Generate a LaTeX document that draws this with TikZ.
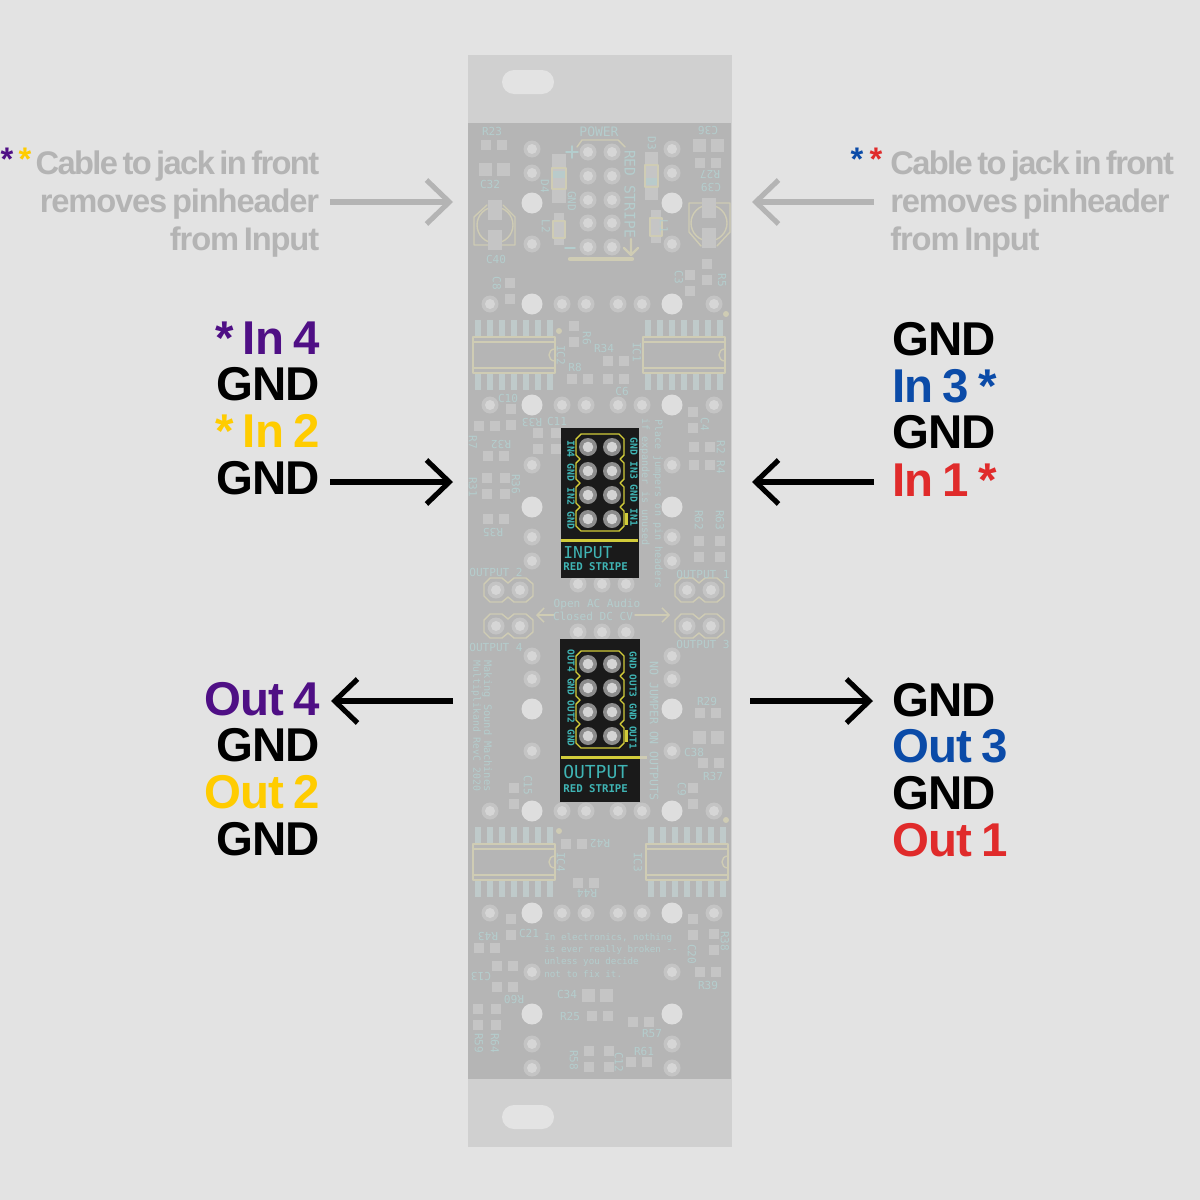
\documentclass[tikz,border=0pt]{standalone}
\usepackage{fontspec}
\setmainfont{Liberation Sans}
\setmonofont{DejaVu Sans Mono}
\newfontfamily\wirefont[LetterSpace=-2,WordSpace=0.75]{Liberation Sans}
\newfontfamily\notefont[LetterSpace=-3.5,WordSpace=0.6]{Liberation Sans}
\newfontfamily\notetight[LetterSpace=-5,WordSpace=0.6]{Liberation Sans}
\usetikzlibrary{arrows.meta}

\definecolor{bggray}{HTML}{E3E3E3}
\definecolor{panelgray}{HTML}{D0D0D0}
\definecolor{pcbgray}{HTML}{B5B5B5}
\definecolor{ringgray}{HTML}{C4C4C4}
\definecolor{coregray}{HTML}{D6D6D6}
\definecolor{holegray}{HTML}{DEDEDE}
\definecolor{smdgray}{HTML}{C5C5C5}
\definecolor{pingray}{HTML}{BFCACA}
\definecolor{fadesilk}{HTML}{CFCCB4}
\definecolor{fadeteal}{HTML}{B4CDCD}
\definecolor{capgray}{HTML}{B4B4B4}
\definecolor{jumperblack}{HTML}{1A1A1A}
\definecolor{silkyellow}{HTML}{D2CC3A}
\definecolor{silkteal}{HTML}{3FB4B4}
\definecolor{pinring}{HTML}{8C8C8C}
\definecolor{pincore}{HTML}{D4D4D4}
\definecolor{wirepurple}{HTML}{4F0F85}
\definecolor{wireyellow}{HTML}{FFCC00}
\definecolor{wireblue}{HTML}{0B4BA8}
\definecolor{wirered}{HTML}{E02B2B}

\tikzset{
  ringpad/.style={fill=ringgray},
  corepad/.style={fill=coregray},
  smdpad/.style={fill=smdgray},
  outlinesilk/.style={draw=fadesilk, line width=0.8pt},
  silklabel/.style={text=fadeteal, inner sep=0pt, font=\ttfamily\fontsize{6.3}{7.4}\selectfont},
  pinlabel/.style={text=silkteal, inner sep=0pt, rotate=-90, font=\ttfamily\bfseries\fontsize{5.6}{6}\selectfont},
  biglabel/.style={inner sep=0pt, font=\wirefont\bfseries\fontsize{27}{29}\selectfont},
  grayline/.style={inner sep=0pt, text=capgray, font=\notefont\bfseries\fontsize{18.6}{21}\selectfont},
  bigarrow/.style={-{Straight Barb[length=13pt,width=25pt,line width=2.9pt]}, line width=2.9pt, line cap=butt},
}

\begin{document}
\begin{tikzpicture}[x=0.02cm, y=-0.02cm, line cap=round, line join=round]

    % ── Page and panel, coordinates are reference pixels ─────────────────────
    \fill[bggray] (0,0) rectangle (1200,1200);
    \useasboundingbox (0,0) rectangle (1200,1200);
    \fill[panelgray] (468,55) rectangle (732,1147);
    \fill[pcbgray] (468,123) rectangle (731,1079);
    \fill[bggray] (514,70) -- (542,70) arc (90:-90:12 and -12) -- (514,94) arc (-90:-270:12 and -12) -- cycle;
    \fill[bggray] (514,1105) -- (542,1105) arc (90:-90:12 and -12) -- (514,1129) arc (-90:-270:12 and -12) -- cycle;

    % ── Through-hole pads ────────────────────────────────────────────────────
    \foreach \x/\y in {588/152,612/152,588/176,612/176,588/200,612/200,588/223,612/223,588/247,612/247,
        532/149,532/173,532/244,672/149,672/173,672/244,
        490/304,562/304,586/304,618/304,642/304,714/304,
        490/405,562/405,586/405,618/405,642/405,714/405,
        532/465,532/537,532/561,672/465,672/537,672/561,
        578/584,602/584,626/584,578/632,602/632,626/632,
        496/590,520/590,687/590,711/590,496/626,520/626,687/626,711/626,
        532/656,532/679,532/751,672/656,672/679,672/751,
        490/811,562/811,586/811,618/811,642/811,714/811,
        490/913,562/913,586/913,618/913,642/913,714/913,
        532/972,532/1044,532/1068,672/972,672/1044,672/1068} {
        \fill[ringpad] (\x,\y) circle (8.5);
        \fill[corepad] (\x,\y) circle (5);
    }
    \foreach \x/\y in {532/203,672/203,532/304,672/304,532/405,672/405,532/507,672/507,
        532/709,672/709,532/811,672/811,532/913,672/913,532/1014,672/1014} {
        \fill[holegray] (\x,\y) circle (10.5);
    }

    % ── Surface pads ─────────────────────────────────────────────────────────
    \foreach \x/\y in {486/145,502/145,700/163,716/163,707/264,707/280,690/275,690/291,510/283,510/299,
        574/326,574/342,608/361,624/361,572/379,588/379,608/379,624/379,511/409,511/425,479/426,495/426,
        538/433,556/433,538/449,556/449,693/412,693/428,694/447,710/447,694/465,710/465,488/456,504/456,
        487/478,505/478,487/494,505/494,488/519,504/519,699/541,720/541,699/557,720/557,
        700/713,716/713,703/763,719/763,514/788,514/804,693/788,693/804,566/844,582/844,578/883,594/883,
        511/919,511/935,479/948,495/948,497/966,513/966,497/987,513/987,478/1009,496/1009,478/1025,496/1025,
        592/1016,608/1016,633/1022,649/1022,589/1051,589/1067,609/1051,609/1067,631/1062,647/1062,
        693/919,693/935,714/934,714/950,700/972,716/972} {
        \fill[smdpad] (\x-5,\y-5) rectangle +(10,10);
    }
    \foreach \x/\y in {485/169,503/169,699/145,717/145,699/737,717/737,588/995,606/995} {
        \fill[smdpad] (\x-6.5,\y-6.5) rectangle +(13,13);
    }

    % ── Electrolytic caps, diodes, chokes ────────────────────────────────────
    \draw[outlinesilk] (474,245) -- (474,217) -- (487,205) (503,205) -- (515,217) -- (515,245) -- (474,245);
    \draw[outlinesilk] (495,225) circle (18);
    \fill[smdpad] (488,200) rectangle +(14,20);
    \fill[smdpad] (488,230) rectangle +(14,20);
    \draw[outlinesilk] (689,203) -- (730,203) -- (730,232) -- (717,246) (701,246) -- (689,232) -- (689,203);
    \draw[outlinesilk] (709,223) circle (18);
    \fill[smdpad] (702,198) rectangle +(14,20);
    \fill[smdpad] (702,228) rectangle +(14,20);
    \fill[smdpad] (552,154) rectangle (566,203);
    \fill[smdpad] (645,152) rectangle (658,200);
    \fill[fadeteal!70!smdgray] (553,171) rectangle (565,178);
    \fill[fadeteal!70!smdgray] (646,178) rectangle (657,185);
    \draw[outlinesilk, line width=1pt] (552,168) rectangle (566,189);
    \draw[outlinesilk, line width=1pt] (645,165) rectangle (658,187);
    \fill[smdpad] (554,213) rectangle (564,245);
    \fill[smdpad] (651,210) rectangle (661,243);
    \draw[outlinesilk] (553,221) rectangle (565,238);
    \draw[outlinesilk] (650,218) rectangle (662,236);

    % ── The four IC outlines with their legs ─────────────────────────────────
    \foreach \icx/\icy in {473/337,643/337,473/844,646/844} {
        \foreach \i in {0,...,6} {
            \fill[pingray] (\icx+2+12*\i,\icy-17) rectangle +(6,70);
        }
        \fill[pcbgray] (\icx,\icy) rectangle +(82,36);
        \draw[outlinesilk] (\icx,\icy) rectangle +(82,36);
        \draw[outlinesilk] (\icx,\icy+5) -- +(82,0) (\icx,\icy+31) -- +(82,0);
        \draw[outlinesilk] (\icx+82,\icy+12) .. controls (\icx+74,\icy+12) and (\icx+74,\icy+24) .. (\icx+82,\icy+24);
    }
    \foreach \x/\y in {559/331,726/314,726/820,559/831} {
        \fill[fadesilk] (\x,\y) circle (3);
    }

    % ── Output jacks, power header marks ─────────────────────────────────────
    \foreach \x/\y in {496/590,687/590,496/626,687/626} {
        \draw[outlinesilk] (\x-6,\y-12) -- (\x+6,\y-12) -- (\x+12,\y-7) -- (\x+18,\y-12) -- (\x+30,\y-12) -- (\x+37,\y-6)
            -- (\x+37,\y+6) -- (\x+30,\y+12) -- (\x+18,\y+12) -- (\x+12,\y+7) -- (\x+6,\y+12) -- (\x-6,\y+12)
            -- (\x-12,\y+6) -- (\x-12,\y-6) -- cycle;
    }
    \draw[outlinesilk] (577,147) -- (582,140) -- (618,140) -- (625,147);
    \draw[fadeteal, line width=0.9pt] (566,152) -- (578,152) (572,146) -- (572,158) (565,248) -- (575,248);
    \draw[fadesilk, line width=2.4pt] (570,259) -- (632,259);
    \draw[fadesilk, line width=1.3pt] (631,239) -- (631,255) (624,248) -- (631,255) -- (638,248);
    \coordinate (acleft) at (536,615);
    \coordinate (acstart) at (554,615);
    \coordinate (dcright) at (670,615);
    \coordinate (dcstart) at (635,615);
    \draw[fadesilk, line width=0.8pt, -{Straight Barb[length=4pt,width=8pt]}] (acstart) -- (acleft);
    \draw[fadesilk, line width=0.8pt, -{Straight Barb[length=4pt,width=8pt]}] (dcstart) -- (dcright);

    % ── Faded silk labels ────────────────────────────────────────────────────
    \foreach \lbl/\x/\y in {R23/492/131,C32/490/184,C40/496/259,R34/604/348,R8/575/367,C6/622/391,C10/508/398,C11/557/421,
        R29/707/701,C38/694/752,R37/713/776,C21/529/933,C34/567/994,R25/570/1016,R57/652/1034,R61/644/1051,R39/708/985} {
        \node[silklabel] (silk\lbl) at (\x,\y) {\lbl};
    }
    \foreach \lbl/\x/\y in {D4/545/186,L2/546/226,D3/652/143,L1/664/226,C3/679/277,R5/722/280,C8/497/283,GND/572/201,
        R6/587/338,IC2/561/355,IC1/637/352,C4/705/424,R7/473/442,R2/721/447,R4/721/467,R36/516/484,R31/473/487,
        R62/699/520,R63/720/520,C15/528/785,C9/682/789,IC4/561/862,IC3/638/862,R59/479/1043,R64/495/1043,
        R58/574/1060,C12/619/1062,C20/692/954,R38/725/941} {
        \node[silklabel, rotate=-90] (silk\lbl) at (\x,\y) {\lbl};
    }
    \foreach \lbl/\x/\y in {C36/708/131,R27/710/175,C39/711/188,R33/532/423,R32/501/445,R35/493/533,
        R42/600/844,R44/587/894,R43/488/937,C13/481/977,R60/514/1000} {
        \node[silklabel, rotate=180] (silk\lbl) at (\x,\y) {\lbl};
    }
    \node[silklabel, font=\ttfamily\fontsize{7.4}{8}\selectfont] (silkpower) at (599,132) {POWER};
    \node[silklabel, rotate=-90, font=\ttfamily\fontsize{8.3}{9}\selectfont] (silkstripe) at (630,194) {RED STRIPE};
    \node[silklabel] (silkout2) at (496,572) {OUTPUT 2};
    \node[silklabel] (silkout1) at (703,574) {OUTPUT 1};
    \node[silklabel] (silkout4) at (496,647) {OUTPUT 4};
    \node[silklabel] (silkout3) at (703,644) {OUTPUT 3};
    \node[silklabel] (silkopen) at (597,604) {Open AC Audio};
    \node[silklabel] (silkclosed) at (593,616) {Closed DC CV};
    \node[silklabel, rotate=-90, font=\ttfamily\fontsize{5.7}{6}\selectfont] (silkplace) at (658,504) {Place jumpers on pin headers};
    \node[silklabel, rotate=-90, font=\ttfamily\fontsize{5.7}{6}\selectfont] (silkif) at (645,482) {if expander is unused};
    \node[silklabel, rotate=-90, font=\ttfamily\fontsize{6.6}{7}\selectfont] (silkno) at (654,731) {NO JUMPER ON OUTPUTS};
    \node[silklabel, rotate=-90, font=\ttfamily\fontsize{5.9}{6}\selectfont] (silkmaking) at (487,726) {Making Sound Machines};
    \node[silklabel, rotate=-90, font=\ttfamily\fontsize{5.6}{6}\selectfont] (silkmulti) at (476,726) {Multiplikand RevC 2020};
    \node[silklabel, anchor=north west, align=left, font=\ttfamily\fontsize{5.25}{6.95}\selectfont] (silkquote) at (544,933)
        {In electronics, nothing\\is ever really broken --\\unless you decide\\not to fix it.};

    % ── Jumper blocks ────────────────────────────────────────────────────────
    \fill[jumperblack] (561,428) rectangle (639,578);
    \fill[jumperblack] (560,639) rectangle (640,802);
    \foreach \hx/\hy in {588/447,588/664} {
        \draw[silkyellow, line width=0.8pt] (\hx-7,\hy-13) -- (\hx+31,\hy-13) -- (\hx+36,\hy-8) -- (\hx+36,\hy+8) -- (\hx+32,\hy+12)
            -- (\hx+36,\hy+16) -- (\hx+36,\hy+32) -- (\hx+32,\hy+36) -- (\hx+36,\hy+40) -- (\hx+36,\hy+56) -- (\hx+32,\hy+60)
            -- (\hx+36,\hy+64) -- (\hx+36,\hy+79) -- (\hx+31,\hy+84) -- (\hx-7,\hy+84) -- (\hx-12,\hy+79) -- (\hx-12,\hy+64)
            -- (\hx-8,\hy+60) -- (\hx-12,\hy+56) -- (\hx-12,\hy+40) -- (\hx-8,\hy+36) -- (\hx-12,\hy+32) -- (\hx-12,\hy+16)
            -- (\hx-8,\hy+12) -- (\hx-12,\hy+8) -- (\hx-12,\hy-8) -- cycle;
        \fill[silkyellow] (\hx+37,\hy+66) rectangle +(2.5,12);
        \foreach \i in {0,...,3} {
            \fill[pinring] (\hx,\hy+24*\i) circle (9);
            \fill[pinring] (\hx+24,\hy+24*\i) circle (9);
            \fill[pincore] (\hx,\hy+24*\i) circle (5.3);
            \fill[pincore] (\hx+24,\hy+24*\i) circle (5.3);
        }
    }
    \fill[silkyellow] (561,538.5) rectangle (638,541.5);
    \fill[fadesilk] (640,755.5) rectangle (647,758.5);
    \fill[silkyellow] (561,755.5) rectangle (640,758.5);

    \node[pinlabel] (pinsinleft) at (571,484.5) {IN4 GND IN2 GND};
    \node[pinlabel] (pinsinright) at (634,482) {GND IN3 GND IN1};
    \node[pinlabel, font=\ttfamily\bfseries\fontsize{5.4}{6}\selectfont] (pinsoutleft) at (571,698) {OUT4 GND OUT2 GND};
    \node[pinlabel, font=\ttfamily\bfseries\fontsize{5.4}{6}\selectfont] (pinsoutright) at (633,700.5) {GND OUT3 GND OUT1};

    \node[inner sep=0pt, text=silkteal, anchor=west, font=\ttfamily\fontsize{9.3}{10}\selectfont] (inputname) at (563,553) {INPUT};
    \node[inner sep=0pt, text=silkteal, anchor=west, font=\ttfamily\bfseries\fontsize{6.1}{7}\selectfont] (inputstripe) at (563,567) {RED STRIPE};
    \node[inner sep=0pt, text=silkteal, anchor=west, font=\ttfamily\fontsize{10.2}{11}\selectfont] (outputname) at (563,772) {OUTPUT};
    \node[inner sep=0pt, text=silkteal, anchor=west, font=\ttfamily\bfseries\fontsize{6.1}{7}\selectfont] (outputstripe) at (563,789) {RED STRIPE};

    % ── Note above, left and right ───────────────────────────────────────────
    \node[grayline, anchor=base east, font=\notetight\bfseries\fontsize{18.6}{21}\selectfont] (noteleftA) at (319.5,174) {Cable to jack in front};
    \node[grayline, anchor=base east] (noteleftB) at (319.5,212) {removes pinheader};
    \node[grayline, anchor=base east] (noteleftC) at (319.5,250) {from Input};
    \node[grayline, anchor=base west, font=\notetight\bfseries\fontsize{18.6}{21}\selectfont] (noterightA) at (890,174) {Cable to jack in front};
    \node[grayline, anchor=base west] (noterightB) at (890,212) {removes pinheader};
    \node[grayline, anchor=base west] (noterightC) at (890,250) {from Input};
    \node[grayline, anchor=base, text=wirepurple] (starpurple) at (7,170) {*};
    \node[grayline, anchor=base, text=wireyellow] (staryellow) at (25,170) {*};
    \node[grayline, anchor=base, text=wireblue] (starblue) at (857,170) {*};
    \node[grayline, anchor=base, text=wirered] (starred) at (876,170) {*};

    % ── Wire names ───────────────────────────────────────────────────────────
    \node[biglabel, anchor=base east, text=wirepurple] (inD) at (320,354) {* In 4};
    \node[biglabel, anchor=base east] (inGndA) at (320,400) {GND};
    \node[biglabel, anchor=base east, text=wireyellow] (inB) at (320,447) {* In 2};
    \node[biglabel, anchor=base east] (inGndB) at (320,494) {GND};
    \node[biglabel, anchor=base west] (inGndC) at (892,355) {GND};
    \node[biglabel, anchor=base west, text=wireblue] (inC) at (892,402) {In 3 *};
    \node[biglabel, anchor=base west] (inGndD) at (892,448) {GND};
    \node[biglabel, anchor=base west, text=wirered] (inA) at (892,496) {In 1 *};
    \node[biglabel, anchor=base east, text=wirepurple] (outD) at (320,715) {Out 4};
    \node[biglabel, anchor=base east] (outGndA) at (320,761) {GND};
    \node[biglabel, anchor=base east, text=wireyellow] (outB) at (320,808) {Out 2};
    \node[biglabel, anchor=base east] (outGndB) at (320,855) {GND};
    \node[biglabel, anchor=base west] (outGndC) at (892,716) {GND};
    \node[biglabel, anchor=base west, text=wireblue] (outC) at (892,762) {Out 3};
    \node[biglabel, anchor=base west] (outGndD) at (892,809) {GND};
    \node[biglabel, anchor=base west, text=wirered] (outA) at (892,856) {Out 1};

    % ── Arrows ───────────────────────────────────────────────────────────────
    \coordinate (noteLstart) at (330,202);
    \coordinate (noteLtip) at (453,202);
    \coordinate (noteRstart) at (874,202);
    \coordinate (noteRtip) at (752,202);
    \coordinate (inLstart) at (330,482);
    \coordinate (inLtip) at (453,482);
    \coordinate (inRstart) at (874,482);
    \coordinate (inRtip) at (752,482);
    \coordinate (outLstart) at (453,701);
    \coordinate (outLtip) at (331,701);
    \coordinate (outRstart) at (750,701);
    \coordinate (outRtip) at (873,701);
    \draw[bigarrow, capgray] (noteLstart) -- (noteLtip);
    \draw[bigarrow, capgray] (noteRstart) -- (noteRtip);
    \draw[bigarrow] (inLstart) -- (inLtip);
    \draw[bigarrow] (inRstart) -- (inRtip);
    \draw[bigarrow] (outLstart) -- (outLtip);
    \draw[bigarrow] (outRstart) -- (outRtip);

\end{tikzpicture}
\end{document}
